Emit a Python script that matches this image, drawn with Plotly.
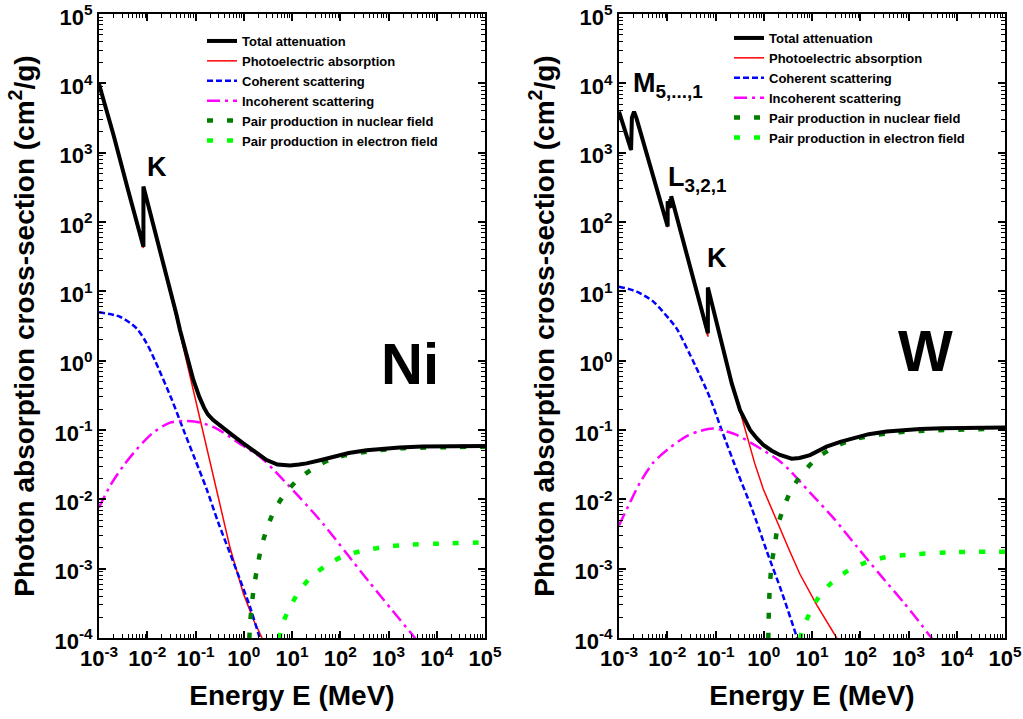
import plotly.graph_objects as go

# ---------------- Ni data (E in MeV, cross-section in cm^2/g) ----------------
ni_total_E = [0.001, 0.002, 0.004, 0.006, 0.00833, 0.00833, 0.01, 0.02, 0.04, 0.0477, 0.06, 0.075,
              0.09, 0.105, 0.12, 0.15, 0.18, 0.233, 0.377, 0.6, 0.98, 1.8, 2.99, 5.0, 7.0, 9.1, 14, 20,
              40, 72, 150, 350, 800, 1700, 5000, 100000]
ni_total_S = [9800, 1800, 290, 95, 44, 324, 200, 31, 4.7, 2.77, 1.6, 0.85,
              0.53, 0.38, 0.30, 0.21, 0.168, 0.139, 0.105, 0.083, 0.064, 0.047, 0.0369, 0.0318, 0.0306,
              0.0307, 0.0318, 0.033, 0.037, 0.041, 0.0465, 0.051, 0.054, 0.056, 0.0578, 0.0588]

ni_photo_E = [0.001, 0.002, 0.004, 0.006, 0.00833, 0.00833, 0.01, 0.02, 0.04, 0.056, 0.077, 0.098,
              0.124, 0.184, 0.275, 0.52, 0.98, 1.6, 2.4, 3.0]
ni_photo_S = [9780, 1790, 287, 93, 42, 321, 196, 29.8, 4.2, 1.55, 0.6, 0.28,
              0.14, 0.04, 0.0128, 2.0e-3, 4.4e-4, 1.8e-4, 1.0e-4, 7.5e-5]

ni_coh_E = [0.001, 0.00272, 0.006, 0.0097, 0.0145, 0.0321, 0.0558, 0.098, 0.171, 0.297, 0.52, 0.84, 1.35, 2.0, 2.5]
ni_coh_S = [4.98, 4.3, 2.92, 1.78, 1.0, 0.277, 0.102, 0.0377, 0.0139, 4.6e-3, 1.66e-3, 6.9e-4, 2.8e-4, 1.17e-4, 7e-5]

ni_incoh_E = [0.001, 0.00169, 0.00319, 0.00604, 0.0133, 0.0297, 0.0559, 0.124, 0.275, 0.714, 2.17,
              4.1, 8.0, 14.7, 44.6, 136, 400, 1200, 3540, 5000]
ni_incoh_S = [7.6e-3, 0.0156, 0.0303, 0.0526, 0.0916, 0.128, 0.135, 0.128, 0.105, 0.068, 0.041,
              0.027, 0.0165, 0.0105, 4.4e-3, 1.65e-3, 6.4e-4, 2.5e-4, 1.0e-4, 7.4e-5]

ni_pn_E = [1.25, 1.35, 1.46, 1.63, 1.91, 2.28, 2.99, 4.24, 6.8, 12.5, 27.7, 72, 352, 1730, 100000]
ni_pn_S = [5e-5, 1.54e-4, 2.89e-4, 5.5e-4, 1.04e-3, 1.96e-3, 3.7e-3, 6.8e-3, 0.0115, 0.0185, 0.028,
           0.039, 0.0486, 0.0543, 0.0575]

ni_pe_E = [5.0, 6.1, 8.7, 13.5, 23.6, 50, 116, 300, 721, 2030, 18800, 100000]
ni_pe_S = [5e-5, 1.46e-4, 2.6e-4, 4.5e-4, 7.3e-4, 1.1e-3, 1.52e-3, 1.82e-3, 2.03e-3, 2.19e-3, 2.32e-3, 2.4e-3]

# ---------------- W data ----------------
w_total_E = [0.001, 0.00178, 0.00185, 0.00205, 0.0023, 0.0028, 0.00515, 0.0102, 0.0102, 0.0115, 0.0115,
             0.0121, 0.0121, 0.03, 0.0695, 0.0695, 0.09, 0.114, 0.157, 0.217, 0.322, 0.408, 0.52, 0.714,
             0.98, 1.46, 2.17, 3.8, 5.5, 9.1, 14, 20, 40, 72, 150, 352, 800, 1730, 5000, 100000]
w_total_S = [3900, 1094, 3200, 3900, 3150, 1950, 435, 86, 200, 160, 215,
             195, 235, 22, 2.48, 11.4, 5.5, 2.77, 1.14, 0.47, 0.194, 0.135, 0.1, 0.076,
             0.061, 0.0503, 0.0436, 0.0385, 0.0395, 0.0435, 0.051, 0.0575, 0.068, 0.076, 0.087, 0.095,
             0.1, 0.103, 0.106, 0.109]

w_photo_E = [0.001, 0.00178, 0.00185, 0.00205, 0.0023, 0.0028, 0.00515, 0.0102, 0.0102, 0.0115, 0.0115,
             0.0121, 0.0121, 0.03, 0.0695, 0.0695, 0.114, 0.171, 0.27, 0.42, 0.65, 0.98, 2.0, 3.5,
             5.64, 12.5, 32.5, 40]
w_photo_S = [3880, 1085, 3180, 3880, 3130, 1935, 430, 84, 197, 157, 212,
             192, 231, 21.5, 2.22, 11.0, 2.65, 0.85, 0.29, 0.1, 0.033, 0.014, 4.3e-3, 1.75e-3,
             8.3e-4, 3.0e-4, 1.0e-4, 8e-5]

w_coh_E = [0.001, 0.00232, 0.00515, 0.0114, 0.0157, 0.03, 0.077, 0.134, 0.297, 0.562, 1.15, 2.36, 4.82, 6.0]
w_coh_S = [11.7, 9.9, 7.1, 3.86, 2.9, 1.2, 0.29, 0.1, 0.023, 7.5e-3, 1.8e-3, 4.6e-4, 1.04e-4, 6.5e-5]

w_incoh_E = [0.001, 0.00169, 0.00272, 0.00514, 0.0114, 0.0253, 0.0477, 0.09, 0.171, 0.275, 0.836,
             2.0, 3.23, 9.1, 27.7, 84, 257, 780, 1600, 3000, 4000]
w_incoh_S = [4.2e-3, 9.0e-3, 0.0174, 0.0339, 0.0557, 0.0818, 0.0968, 0.105, 0.095, 0.085, 0.0545,
             0.037, 0.0275, 0.0125, 5.4e-3, 2.1e-3, 8.2e-4, 3.3e-4, 1.77e-4, 1.0e-4, 7.7e-5]

w_pn_E = [1.22, 1.29, 1.35, 1.46, 1.71, 1.97, 2.67, 3.79, 6.41, 11.5, 27.7, 72, 352, 1730, 100000]
w_pn_S = [5e-5, 3.2e-4, 6.1e-4, 1.19e-3, 2.26e-3, 4.27e-3, 8.0e-3, 0.0141, 0.0237, 0.037, 0.056,
          0.073, 0.089, 0.097, 0.105]

w_pe_E = [5.0, 6.1, 8.8, 13.5, 24.4, 55, 131, 330, 845, 6180, 100000]
w_pe_S = [5e-5, 1.21e-4, 2.22e-4, 3.81e-4, 6.1e-4, 9.3e-4, 1.23e-3, 1.46e-3, 1.57e-3, 1.72e-3, 1.76e-3]

# ---------------- ticks / labels ----------------
x_tickvals = [1e-3, 1e-2, 1e-1, 1e0, 1e1, 1e2, 1e3, 1e4, 1e5]
x_ticktext = ["10<sup>-3</sup>", "10<sup>-2</sup>", "10<sup>-1</sup>", "10<sup>0</sup>", "10<sup>1</sup>",
              "10<sup>2</sup>", "10<sup>3</sup>", "10<sup>4</sup>", "10<sup>5</sup>"]
y_tickvals = [1e-4, 1e-3, 1e-2, 1e-1, 1e0, 1e1, 1e2, 1e3, 1e4, 1e5]
y_ticktext = ["10<sup>-4</sup>", "10<sup>-3</sup>", "10<sup>-2</sup>", "10<sup>-1</sup>", "10<sup>0</sup>",
              "10<sup>1</sup>", "10<sup>2</sup>", "10<sup>3</sup>", "10<sup>4</sup>", "10<sup>5</sup>"]

series_names = ["Total attenuation", "Photoelectric absorption", "Coherent scattering",
                "Incoherent scattering", "Pair production in nuclear field",
                "Pair production in electron field"]

styles = {
    "Total attenuation": dict(color="black", width=4, dash="solid"),
    "Photoelectric absorption": dict(color="#FF0000", width=1.5, dash="solid"),
    "Coherent scattering": dict(color="#0000FF", width=2.5, dash="6px,3px", shape="spline", smoothing=0.8),
    "Incoherent scattering": dict(color="#FF00FF", width=2.5, dash="13px,5px,3px,5px", shape="spline", smoothing=0.8),
    "Pair production in nuclear field": dict(color="#007F00", width=4.5, dash="6px,14px", shape="spline", smoothing=0.8),
    "Pair production in electron field": dict(color="#00FF00", width=4.5, dash="6px,14px", shape="spline", smoothing=0.8),
}

panels = [
    ("x", "y", "legend", {
        "Total attenuation": (ni_total_E, ni_total_S),
        "Photoelectric absorption": (ni_photo_E, ni_photo_S),
        "Coherent scattering": (ni_coh_E, ni_coh_S),
        "Incoherent scattering": (ni_incoh_E, ni_incoh_S),
        "Pair production in nuclear field": (ni_pn_E, ni_pn_S),
        "Pair production in electron field": (ni_pe_E, ni_pe_S),
    }),
    ("x2", "y2", "legend2", {
        "Total attenuation": (w_total_E, w_total_S),
        "Photoelectric absorption": (w_photo_E, w_photo_S),
        "Coherent scattering": (w_coh_E, w_coh_S),
        "Incoherent scattering": (w_incoh_E, w_incoh_S),
        "Pair production in nuclear field": (w_pn_E, w_pn_S),
        "Pair production in electron field": (w_pe_E, w_pe_S),
    }),
]

fig = go.Figure()
draw_order = series_names[1:] + series_names[:1]  # total drawn last (on top)
for xa, ya, leg, data in panels:
    for name in draw_order:
        xs, ys = data[name]
        fig.add_trace(go.Scatter(
            x=xs, y=ys, mode="lines", name=name, xaxis=xa, yaxis=ya, legend=leg,
            legendrank=series_names.index(name) + 1,
            line=styles[name], hoverinfo="skip"))

FONT = "Arial, Liberation Sans, sans-serif"
minor_x = [m * 10 ** e for e in range(-3, 5) for m in range(2, 10)]
minor_y = [m * 10 ** e for e in range(-4, 5) for m in range(2, 10)]


def axis(domain, rng, tv, tt, minor_vals, title, anchor, standoff, shift=0):
    return dict(type="log", range=rng, domain=domain, anchor=anchor, automargin=False,
                showline=True, linewidth=2, linecolor="black",
                mirror="allticks", ticks="inside", ticklen=7, tickwidth=1.5, tickcolor="black",
                tickvals=tv, ticktext=tt, showgrid=False, zeroline=False, ticklabeloverflow="allow",
                ticklabelshift=shift,
                tickfont=dict(family=FONT, size=22, color="black", weight="bold"),
                minor=dict(tickvals=minor_vals, ticks="inside", ticklen=4, tickwidth=1,
                           tickcolor="black", showgrid=False),
                title=dict(text=title, standoff=standoff,
                           font=dict(family=FONT, size=28, color="black", weight="bold")))


W, H = 1023, 719
xd1 = [99 / W, 485 / W]
xd2 = [619 / W, 1005 / W]
yd = [1 - 638 / H, 1 - 14 / H]

ytitle = "Photon absorption cross-section (cm<sup>2</sup>/g)"
xtitle = "Energy E (MeV)"

fig.update_layout(
    width=W, height=H, margin=dict(l=0, r=0, t=0, b=0, autoexpand=False),
    paper_bgcolor="white", plot_bgcolor="white",
    xaxis=axis(xd1, [-3, 5], x_tickvals, x_ticktext, minor_x, xtitle, "y", 15),
    yaxis=axis(yd, [-4, 5], y_tickvals, y_ticktext, minor_y, ytitle, "x", 12, 3),
    xaxis2=axis(xd2, [-3, 5], x_tickvals, x_ticktext, minor_x, xtitle, "y2", 15),
    yaxis2=axis(yd, [-4, 5], y_tickvals, y_ticktext, minor_y, ytitle, "x2", 12, 3),
    legend=dict(x=202 / W, y=1 - 26 / H, xanchor="left", yanchor="top", bgcolor="rgba(0,0,0,0)",
                font=dict(family=FONT, size=13, color="black", weight="bold"), tracegroupgap=0),
    legend2=dict(x=729 / W, y=1 - 23 / H, xanchor="left", yanchor="top", bgcolor="rgba(0,0,0,0)",
                 font=dict(family=FONT, size=13, color="black", weight="bold"), tracegroupgap=0),
    showlegend=True,
)

ann_font = dict(family=FONT, color="black", weight="bold")
fig.add_annotation(x=410 / W, y=1 - 364 / H, xref="paper", yref="paper", xanchor="center", yanchor="middle",
                   text="Ni", showarrow=False, font=dict(size=58, **ann_font))
fig.add_annotation(x=925 / W, y=1 - 350 / H, xref="paper", yref="paper", xanchor="center", yanchor="middle",
                   text="W", showarrow=False, font=dict(size=58, **ann_font))
fig.add_annotation(x=157 / W, y=1 - 167 / H, xref="paper", yref="paper", xanchor="center", yanchor="middle",
                   text="K", showarrow=False, font=dict(size=27, **ann_font))
fig.add_annotation(x=717 / W, y=1 - 258 / H, xref="paper", yref="paper", xanchor="center", yanchor="middle",
                   text="K", showarrow=False, font=dict(size=27, **ann_font))
fig.add_annotation(x=631 / W, y=1 - 66 / H, xref="paper", yref="paper", xanchor="left", yanchor="top",
                   text="M<sub>5,...,1</sub>", showarrow=False, font=dict(size=27, **ann_font))
fig.add_annotation(x=666 / W, y=1 - 160 / H, xref="paper", yref="paper", xanchor="left", yanchor="top",
                   text="L<sub>3,2,1</sub>", showarrow=False, font=dict(size=27, **ann_font))

fig.write_html("out.html")
